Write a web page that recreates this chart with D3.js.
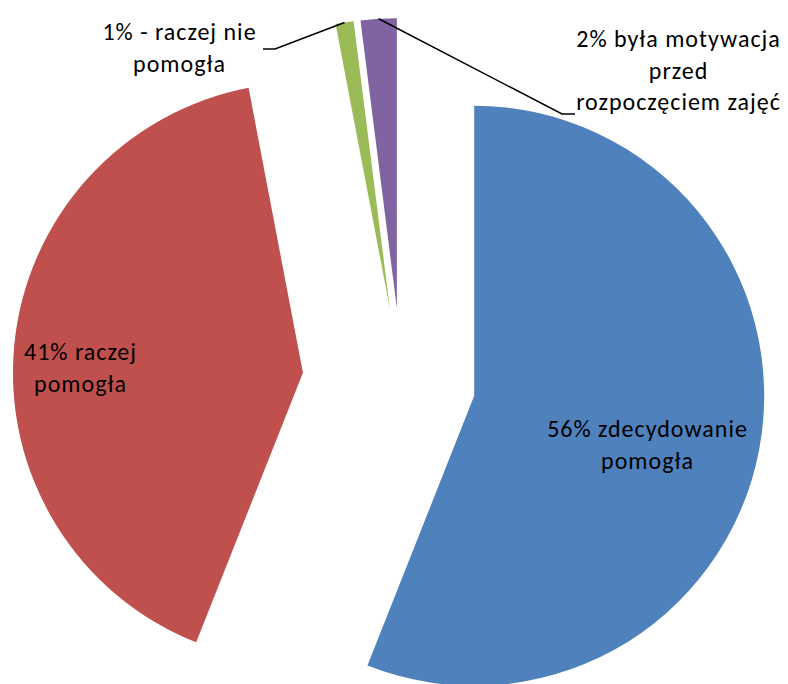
<!DOCTYPE html>
<html>
<head>
<meta charset="utf-8">
<script src="https://cdn.jsdelivr.net/npm/d3@7"></script>
<style>
  html, body { margin: 0; padding: 0; background: #fff; }
  svg { display: block; }
  text { font-family: Carlito, Calibri, Lato, sans-serif; fill: #000; }
</style>
</head>
<body>
<svg id="chart" width="788" height="684"></svg>
<script>
// ---- data ----
const categories = [
  "zdecydowanie pomogła",
  "raczej pomogła",
  "raczej nie pomogła",
  "była motywacja przed rozpoczęciem zajęć"
];
const values = [56, 41, 1, 2];
const labelLines = [
  ["56% zdecydowanie", "pomogła"],
  ["41% raczej", "pomogła"],
  ["1% - raczej nie", "pomogła"],
  ["2% była motywacja", "przed", "rozpoczęciem zajęć"]
];

// ---- layout / style ----
const W = 788, H = 684;
const cx = 401.5, cy = 382, R = 290;
const explode = [74, 99, 74, 74];
const colors = ["#4F81BD", "#C0504D", "#9BBB59", "#8064A2"];
const fontSize = 24, lineH = 31.5, letterSp = 1;
// label anchor: [center x, first baseline y]
const labelPos = [[647, 437], [80, 360], [179, 40], [678, 47]];
// leader lines for outside labels: elbow point and end point
const leaders = {2: [[275, 49], [263, 49]], 3: [[562, 114], [575, 114]]};

const svg = d3.select("#chart");
const pie = d3.pie().sort(null).value(d => d)(values);
const arc = d3.arc().innerRadius(0).outerRadius(R);

function offset(d, i) {
  const a = (d.startAngle + d.endAngle) / 2;
  return [cx + explode[i] * Math.sin(a), cy - explode[i] * Math.cos(a)];
}

svg.append("g").selectAll("path")
  .data(pie)
  .join("path")
  .attr("transform", (d, i) => { const o = offset(d, i); return `translate(${o[0]},${o[1]})`; })
  .attr("d", arc)
  .attr("fill", (d, i) => colors[i]);

// leader lines
Object.keys(leaders).forEach(k => {
  const i = +k, d = pie[i];
  const o = offset(d, i);
  const a = (d.startAngle + d.endAngle) / 2;
  const start = [o[0] + R * Math.sin(a), o[1] - R * Math.cos(a)];
  const pts = [start, ...leaders[k]];
  svg.append("path")
    .attr("d", d3.line()(pts))
    .attr("fill", "none")
    .attr("stroke", "#000")
    .attr("stroke-width", 1.5);
});

// labels
const lg = svg.append("g");
labelLines.forEach((lines, i) => {
  const t = lg.append("text")
    .attr("text-anchor", "middle")
    .attr("font-size", fontSize)
    .attr("letter-spacing", letterSp);
  lines.forEach((ln, j) => {
    t.append("tspan")
      .attr("x", labelPos[i][0] + letterSp / 2)
      .attr("y", labelPos[i][1] + j * lineH)
      .text(ln);
  });
});
</script>
</body>
</html>
